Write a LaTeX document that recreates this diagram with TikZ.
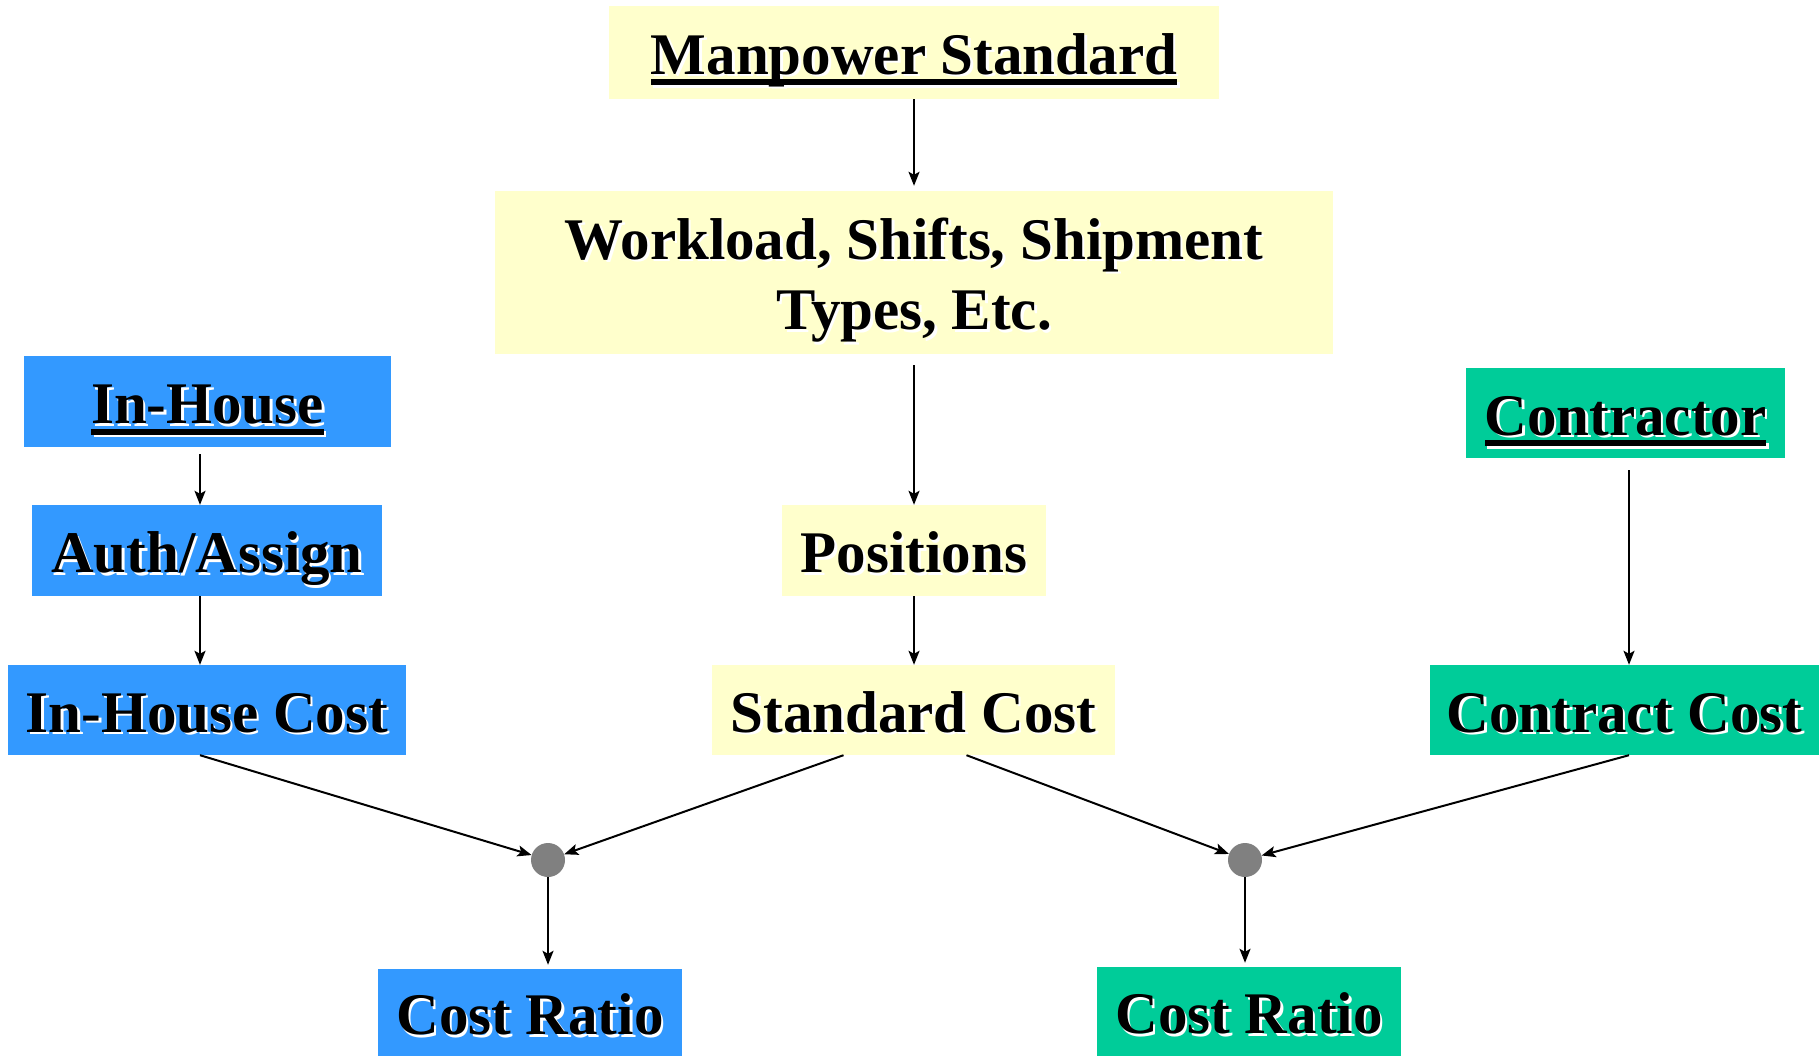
\documentclass[tikz,border=0pt]{standalone}
\usepackage{fontspec}
\setmainfont{Liberation Serif}
\usetikzlibrary{arrows.meta}
\definecolor{boxblue}{HTML}{3399FF}
\definecolor{boxgreen}{HTML}{00CC99}
\definecolor{boxyellow}{HTML}{FFFFCC}
\definecolor{dotgray}{HTML}{808080}
\newcommand{\shd}[1]{\leavevmode\rlap{\kern2.5pt\raisebox{-2.5pt}{\color{white}#1}}#1}
\newcommand{\ulin}[1]{\setbox0\hbox{#1}\rlap{\rule[-11pt]{\wd0}{6pt}}\box0}
\tikzset{
  box/.style={rectangle, inner sep=0pt, font=\fontsize{59}{70}\selectfont\bfseries, text=black, align=center, text height=44pt, text depth=0pt},
  yel/.style={box, fill=boxyellow},
  blu/.style={box, fill=boxblue},
  grn/.style={box, fill=boxgreen},
  dot/.style={circle, fill=dotgray, minimum size=34pt, inner sep=0pt},
  arr/.style={draw=black, line width=2pt, -{Stealth[length=14pt,width=11pt,inset=3pt]}},
}
\begin{document}
\begin{tikzpicture}[x=1pt,y=-1pt]
\useasboundingbox (0,0) rectangle (1819,1056);
\node[yel, minimum width=610pt, minimum height=93pt] (ms) at (914,52.5) {\shd{\ulin{Manpower Standard}}};
\node[yel, minimum width=838pt, minimum height=163pt, text height=114pt, text depth=0pt] (wl) at (914,272.5) {\shd{Workload, Shifts, Shipment}\\\shd{Types, Etc.}};
\node[blu, minimum width=367pt, minimum height=91pt] (ih) at (207.5,401.5) {\shd{\ulin{In-House}}};
\node[blu, minimum width=350pt, minimum height=91pt] (aa) at (207,550.5) {\shd{Auth/Assign}};
\node[blu, minimum width=398pt, minimum height=90pt] (ihc) at (207,710) {\shd{In-House Cost}};
\node[yel, minimum width=264pt, minimum height=91pt] (pos) at (914,550.5) {\shd{Positions}};
\node[yel, minimum width=403pt, minimum height=90pt] (sc) at (913.5,710) {\shd{Standard Cost}};
\node[grn, minimum width=319pt, minimum height=90pt] (con) at (1625.5,413) {\shd{\ulin{Contractor}}};
\node[grn, minimum width=389pt, minimum height=90pt] (cc) at (1624.5,710) {\shd{Contract Cost}};
\node[blu, minimum width=304pt, minimum height=87pt] (cr1) at (530,1012.5) {\shd{Cost Ratio}};
\node[grn, minimum width=304pt, minimum height=89pt] (cr2) at (1249,1011.5) {\shd{Cost Ratio}};
\node[dot] (d1) at (548,860) {};
\node[dot] (d2) at (1245,860) {};
\draw[arr, shorten >=5pt] (ms.south) -- (wl.north);
\draw[arr, shorten <=11pt] (wl.south) -- (pos.north);
\draw[arr, shorten <=7pt] ([xshift=-7pt]aa.north |- ih.south) -- ([xshift=-7pt]aa.north);
\draw[arr] ([xshift=-7pt]aa.south) -- ([xshift=-7pt]aa.south |- ihc.north);
\draw[arr] (pos.south) -- (pos.south |- sc.north);
\draw[arr, shorten <=12pt] ([xshift=4.5pt]cc.north |- con.south) -- ([xshift=4.5pt]cc.north);
\draw[arr] ([xshift=-7pt]ihc.south) -- (d1);
\draw[arr] ([xshift=-70pt]sc.south) -- (d1);
\draw[arr] ([xshift=53pt]sc.south) -- (d2);
\draw[arr] ([xshift=4.5pt]cc.south) -- (d2);
\draw[arr, shorten >=4pt] (d1) -- (d1 |- cr1.north);
\draw[arr, shorten >=4pt] (d2) -- (d2 |- cr2.north);
\end{tikzpicture}
\end{document}
